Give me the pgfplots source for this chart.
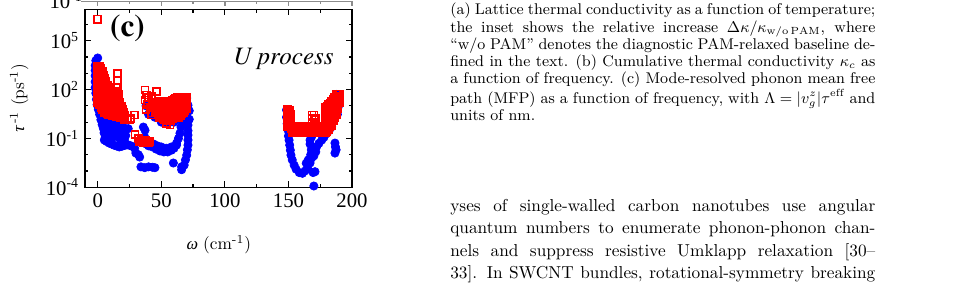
\documentclass[border=0pt]{standalone}
\usepackage{pgfplots}
\pgfplotsset{compat=1.18}
\usepackage{fontspec}
\newfontfamily\tnr{Liberation Serif}
\newfontfamily\tnrit{Liberation Serif}[FakeSlant=0.21]
\newfontfamily\termes{TeX Gyre Termes}
\begin{document}
\begin{tikzpicture}
\useasboundingbox (0,0) rectangle (555.65pt,-170.17pt);
\begin{axis}[
  at={(49.2pt,-108.41pt)}, anchor=south west,
  scale only axis, width=154.54pt, height=103.03pt,
  xmin=-10, xmax=200, ymode=log, ymin=1e-4, ymax=8.5e6,
  axis line style={line width=0.8pt},
  tick align=inside, major tick length=3.5pt, minor tick length=2pt,
  every tick/.style={black, line width=0.7pt},
  xtick={0,50,100,150,200}, minor xtick={25,75,125,175},
  ytick={1e-4,1e-1,1e2,1e5},
  yticklabels={10\textsuperscript{-4},10\textsuperscript{-1},10\textsuperscript{2},10\textsuperscript{5}},
  minor ytick={1e-3,1e-2,1,10,1e3,1e4,1e6},
  /pgf/number format/assume math mode=true,
  tick label style={font=\tnr\fontsize{12}{12}\selectfont},
  xlabel={{\tnrit ω} (cm\textsuperscript{-1})},
  ylabel={{\tnrit τ}\kern1.2pt\textsuperscript{-1} (ps\textsuperscript{-1})},
  label style={font=\tnr\fontsize{14}{14}\selectfont},
  every axis x label/.style={at={(axis description cs:0.5,-0.324)}, anchor=center},
  every axis y label/.style={at={(axis description cs:-0.247,0.5)}, rotate=90, anchor=center},
]
\addplot[only marks, mark=*, mark size=2.4pt, color=blue] coordinates {
(0,8700) (-1.5,6000) (-2,3000) (-2,1500) (-2,700) (-2,300) (-2,130) (-1.5,60) (-1,25) (-0.5,12) (0.5,6) (1.5,3) (2.5,1.4) (3.5,0.7) (4.5,0.4) (5,0.22) (6,0.12) (5.2,0.08) (7,0.065) (9,0.052) (11,0.045) (13,0.038) (15,0.034) (17,0.03) (19,0.033) (21,0.037) (23,0.04) (25,0.038) (27,0.033) (29,0.025) (30,0.0126) (32,0.01) (33,0.0072) (34,0.0018) (37,0.0016) (40,0.0018) (43,0.0017) (45,0.0016)
(2,5) (4,3) (6,2) (8,1.5) (10,1.2) (12,1) (15,0.8) (17,0.33) (19.7,0.21) (18,0.6) (20,0.5) (24,0.4) (1,10) (3,8) (12,0.25) (8,0.35) (10,0.2)
(6,0.5) (7,0.25) (9,0.15) (11,0.1) (13,0.15) (14,0.3) (16,0.12) (9,0.7) (11,0.45) (13,0.6) (4,1.2) (6,0.9) (22,0.15) (18,0.08) (21,0.08)
(35.9,0.5) (37.2,0.32) (37,0.12) (36,0.079) (38,0.046) (40,0.035) (43,0.03) (46,0.022) (49,0.017) (52,0.0148) (55,0.0148) (58,0.019) (60,0.025) (62,0.039) (41,0.05) (44,0.045) (47,0.035) (50,0.03) (54,0.025) (58,0.03) (62,0.052) (63.5,0.1) (64.7,0.21) (65.5,0.5) (66.5,1) (67,1.35) (68,3) (69,5.6) (68.7,15) (70,2.8) (71,0.66) (71,0.3) (71,0.16) (71,0.08) (71,0.039) (70.5,0.02) (70,0.0095) (69,0.0048) (68,0.0023) (71,11) (66,0.0012) (66,0.0018) (59.5,0.0031) (72,1.5) (72,5)
(38,10) (40,3) (45,2) (50,1) (55,0.8) (60,1) (65,3) (70,30)
(148.5,5.6) (148.5,2) (149,0.8) (149.5,0.5) (150,0.28) (150,0.14) (150.5,0.079) (151,0.039) (151.5,0.019) (152,0.0095) (153,0.0048) (154.5,0.0023) (156,0.0013) (158.5,0.0008) (161,0.00072) (163,0.001) (165,0.0015) (167,0.0031) (168.3,0.0063) (170,0.0085) (171.5,0.015) (172.2,0.031) (174,0.05) (176.2,0.079) (178,0.12) (180.1,0.2) (182,0.3) (184,0.52) (185,1.8) (186.6,5.6) (187.4,23) (188,50) (186.6,0.052) (186.6,0.0126) (187,0.03) (187.5,0.02) (170.9,0.00091) (169.4,0.0008) (170,0.00012) (167,0.079) (168.3,0.13) (164,0.003) (165.6,0.0048) (167.5,0.01) (168,0.02) (167,0.045) (188.5,3) (189,8)
};
\addplot[only marks, mark=square, mark size=2.05pt, color=red, mark options={line width=0.95pt}] coordinates {
(0,2.1e6)
(-0.5,16) (-0.5,32) (-0.5,63) (-0.5,125) (-0.5,250) (-0.5,500) (-0.5,1000) (-0.5,2000) (-0.5,2800)
(0.5,20) (0.5,40) (0.5,80) (0.5,160) (0.5,320) (0.5,630) (0.5,1260) (0.5,2500)
(1.5,12.6) (1.5,25) (1.5,50) (1.5,100) (1.5,200) (1.5,400) (1.5,800) (1.5,1600) (1.5,2500)
(2.5,8) (2.5,16) (2.5,32) (2.5,63) (2.5,125) (2.5,250) (2.5,500) (2.5,1000) (2.5,2000)
(3.5,6) (3.5,10) (3.5,20) (3.5,40) (3.5,80) (3.5,160) (3.5,320) (3.5,630) (3.5,1260)
(4.5,6.3) (4.5,12.6) (4.5,25) (4.5,50) (4.5,100) (4.5,200) (4.5,400) (4.5,800)
(5.5,4) (5.5,8) (5.5,16) (5.5,32) (5.5,63) (5.5,125) (5.5,250) (5.5,500)
(6.5,5) (6.5,10) (6.5,20) (6.5,40) (6.5,80) (6.5,160) (6.5,300)
(7.5,3.2) (7.5,6.3) (7.5,12.6) (7.5,25) (7.5,50) (7.5,100) (7.5,180)
(8.5,3) (8.5,4) (8.5,8) (8.5,16) (8.5,32) (8.5,63) (8.5,100)
(9.5,3) (9.5,5) (9.5,10) (9.5,20) (9.5,40) (9.5,60)
(10.5,3.2) (10.5,6.3) (10.5,12.6) (10.5,25) (10.5,35)
(11.5,2.5) (11.5,4) (11.5,8) (11.5,16) (11.5,20)
(12.5,2.5) (12.5,5) (12.5,10) (12.5,20) (12.5,40)
(13.5,3.2) (13.5,6.3) (13.5,12.6) (13.5,25) (13.5,50) (13.5,80)
(14.5,2.3) (14.5,4) (14.5,8) (14.5,16) (14.5,32) (14.5,63) (14.5,125) (14.5,140)
(15.5,2.5) (15.5,5) (15.5,10) (15.5,20) (15.5,40) (15.5,80) (15.5,140)
(16.5,2.1) (16.5,3.2) (16.5,6.3) (16.5,12.6) (16.5,25) (16.5,50)
(17.5,2) (17.5,4) (17.5,8) (17.5,16)
(18.5,2) (18.5,2.5) (18.5,5) (18.5,10)
(19.5,1.8) (19.5,3.2) (19.5,6)
(20.5,1.8) (20.5,4) (21.5,1.7) (21.5,2.5)
(15.7,1000) (15.7,390) (23.6,1.35) (25.4,1.35) (26.2,1.7) (28.8,2.7) (21,1.35)
(29.3,0.18) (32,0.1) (33,0.065) (35,0.065) (37,0.065) (39,0.065) (41,0.065) (34.5,0.08) (38,0.08) (36,0.055) (40,0.055)
(37.2,93) (38.5,46) (37.2,23) (39,12) (40,30) (41.5,8) (42.5,36) (42.5,2.8) (42.5,3.6) (44,16) (38,6) (46.4,74) (47.7,2.8) (50.3,2.8) (54.3,0.85) (56.9,0.66) (55.6,1.35)
(45,4) (45,8) (45,16)
(46.25,5) (46.25,10) (46.25,16)
(47.5,3.2) (47.5,6.3) (47.5,12.6) (47.5,18)
(48.75,2) (48.75,4) (48.75,8) (48.75,16) (48.75,20)
(50,2.5) (50,5) (50,10) (50,20)
(51.25,1.58) (51.25,3.2) (51.25,6.3) (51.25,12.6) (51.25,20)
(52.5,1.4) (52.5,2) (52.5,4) (52.5,8) (52.5,16) (52.5,20)
(53.75,1.26) (53.75,2.5) (53.75,5) (53.75,10) (53.75,20)
(55,1.58) (55,3.2) (55,6.3) (55,12.6) (55,20)
(56.25,1.4) (56.25,2) (56.25,4) (56.25,8) (56.25,16) (56.25,20)
(57.5,1.26) (57.5,2.5) (57.5,5) (57.5,10) (57.5,20)
(58.75,1.58) (58.75,3.2) (58.75,6.3) (58.75,12.6) (58.75,22)
(60,2) (60,4) (60,8) (60,16) (60,25)
(61.25,2.5) (61.25,5) (61.25,10) (61.25,20) (61.25,28)
(62.5,2) (62.5,3.2) (62.5,6.3) (62.5,12.6) (62.5,25) (62.5,32)
(63.75,2) (63.75,4) (63.75,8) (63.75,16) (63.75,32)
(65,2.5) (65,5) (65,10) (65,20) (65,32)
(66.25,3.2) (66.25,6.3) (66.25,12.6) (66.25,25) (66.25,35)
(67.5,4) (67.5,8) (67.5,16) (67.5,32)
(68.75,5) (68.75,10) (68.75,20) (68.75,35)
(70,6.3) (70,12.6) (70,25) (70,35)
(149.5,0.5) (149.5,1) (149.5,2) (149.5,4) (149.5,6.3)
(150.75,0.63) (150.75,1.26) (150.75,2.5) (150.75,5)
(152,0.4) (152,0.8) (152,1.6) (152,3.2)
(153,0.22) (153,0.35) (153,0.5)
(154.25,0.28) (154.25,0.42) (154.25,0.55)
(155.5,0.22) (155.5,0.35) (155.5,0.5)
(156.75,0.28) (156.75,0.42) (156.75,0.55)
(158,0.22) (158,0.35) (158,0.5)
(159.25,0.28) (159.25,0.42) (159.25,0.55)
(160.5,0.22) (160.5,0.35) (160.5,0.5)
(161.75,0.28) (161.75,0.42) (161.75,0.55)
(163,0.22) (163,0.35) (163,0.5)
(164.25,0.28) (164.25,0.42) (164.25,0.55)
(165.5,0.22) (165.5,0.35) (165.5,0.5)
(166.75,0.28) (166.75,0.42) (166.75,0.55)
(168,0.22) (168,0.35) (168,0.5)
(169.25,0.28) (169.25,0.42) (169.25,0.55)
(170.5,0.22) (170.5,0.35) (170.5,0.5)
(171.75,0.28) (171.75,0.42) (171.75,0.55)
(173,0.22) (173,0.35) (173,0.5)
(174.25,0.28) (174.25,0.42) (174.25,0.55)
(175.5,0.22) (175.5,0.35) (175.5,0.5)
(176.75,0.28) (176.75,0.42) (176.75,0.55)
(178,0.22) (178,0.35) (178,0.5)
(168.5,0.8) (168.5,1.6) (168.5,2.7) (170,0.7) (170,1.35) (170,2.7) (171.25,0.8) (171.25,1.6)
(179,0.22) (179,0.35) (179,0.5) (179,1) (179,2) (179,4) (179,8)
(180.25,0.28) (180.25,0.55) (180.25,1.26) (180.25,2.5) (180.25,5) (180.25,10)
(181.5,0.35) (181.5,0.63) (181.5,1.6) (181.5,3.2) (181.5,6.3) (181.5,12)
(182.75,0.5) (182.75,1) (182.75,2) (182.75,4) (182.75,8) (182.75,14)
(184,0.63) (184,1.26) (184,2.5) (184,5) (184,10) (184,20)
(185.25,1.2) (185.25,1.6) (185.25,3.2) (185.25,6.3) (185.25,12.6) (185.25,25)
(186.5,2) (186.5,4) (186.5,8) (186.5,16) (186.5,32)
(187.75,3) (187.75,5) (187.75,10) (187.75,20) (187.75,40) (187.75,54)
(189,6.3) (189,12.6) (189,25) (189,54)
(190,16) (190,32) (190,54)
};
\end{axis}
\begin{scope}[x=0.5788pt, y=-0.5788pt]
% remnant of the panel above
\draw[black!45, line width=0.8pt] (81,1.5) -- (352,1.5);
\foreach \xx in {97.7,161.3,224.9,288.4,352} \draw[black!45, line width=0.7pt] (\xx,1.5) -- (\xx,6.5);
\foreach \xx in {129.5,193.1,256.6,320.2} \draw[black!45, line width=0.7pt] (\xx,1.5) -- (\xx,4.5);
\node[anchor=base east, inner sep=0, font=\tnr\fontsize{12}{12}\selectfont] at (83,9) {10\textsuperscript{-1}};
% panel annotations
\node[anchor=center, inner sep=0, font=\termes\bfseries\fontsize{18}{18}\selectfont] at (127.5,28) {(c)};
\node[anchor=base, inner sep=0, font=\termes\itshape\fontsize{14.5}{14.5}\selectfont] at (283.5,65) {U process};
% caption text
\node[anchor=base west, inner sep=0] at (450,15) {\parbox[t]{246pt}{\fontsize{9}{9.96}\selectfont
\hbox to \linewidth{(a) Lattice thermal conductivity as a function of temperature;}
\hbox to \linewidth{the inset shows the relative increase $\Delta\kappa/\kappa_{\mathrm{w/o\,PAM}}$, where}
\hbox to \linewidth{``w/o PAM'' denotes the diagnostic PAM-relaxed baseline de-}
\hbox to \linewidth{fined in the text. (b) Cumulative thermal conductivity $\kappa_c$ as}
\hbox to \linewidth{a function of frequency. (c) Mode-resolved phonon mean free}
\hbox to \linewidth{path (MFP) as a function of frequency, with $\Lambda = |v_g^z|\tau^{\mathrm{eff}}$ and}
\hbox{units of nm.}}};
% body text
\node[anchor=base west, inner sep=0] at (450,211.7) {\parbox[t]{246pt}{\fontsize{10}{12.85}\selectfont
\hbox to \linewidth{yses of single-walled carbon nanotubes use angular}
\hbox to \linewidth{quantum numbers to enumerate phonon-phonon chan-}
\hbox to \linewidth{nels and suppress resistive Umklapp relaxation [30--}
\hbox to \linewidth{33]. In SWCNT bundles, rotational-symmetry breaking}}};
\end{scope}
\end{tikzpicture}
\end{document}
